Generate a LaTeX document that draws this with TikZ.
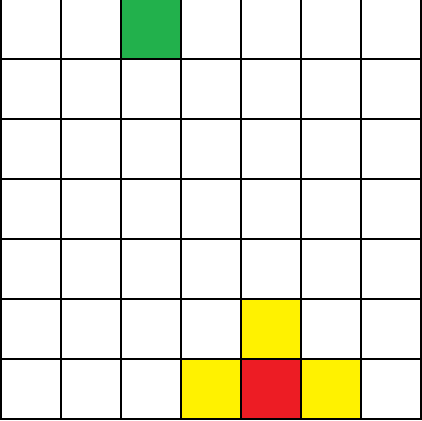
\documentclass[tikz,border=0pt]{standalone}
\usepackage{tikz}

\definecolor{cellgreen}{HTML}{22B14C}
\definecolor{cellyellow}{HTML}{FFF200}
\definecolor{cellred}{HTML}{ED1C24}

\begin{document}
\begin{tikzpicture}[
  x=1pt, y=-1pt,
  cl/.style={draw=none},
  gl/.style={draw=black, line width=2pt}
]
\clip (-1,1) rectangle (421,421);
\fill[white] (-1,1) rectangle (421,421);

% coloured cells
\fill[cl, cellgreen]  (120,0)   rectangle +(60,60);
\fill[cl, cellyellow] (240,300) rectangle +(60,60);
\fill[cl, cellyellow] (180,360) rectangle +(60,60);
\fill[cl, cellred]    (240,360) rectangle +(60,60);
\fill[cl, cellyellow] (300,360) rectangle +(60,60);

% grid
\foreach \i in {0,...,7} {
  \draw[gl] (\i*60,-1) -- (\i*60,421);
  \draw[gl] (-1,\i*60) -- (421,\i*60);
}
\end{tikzpicture}
\end{document}
